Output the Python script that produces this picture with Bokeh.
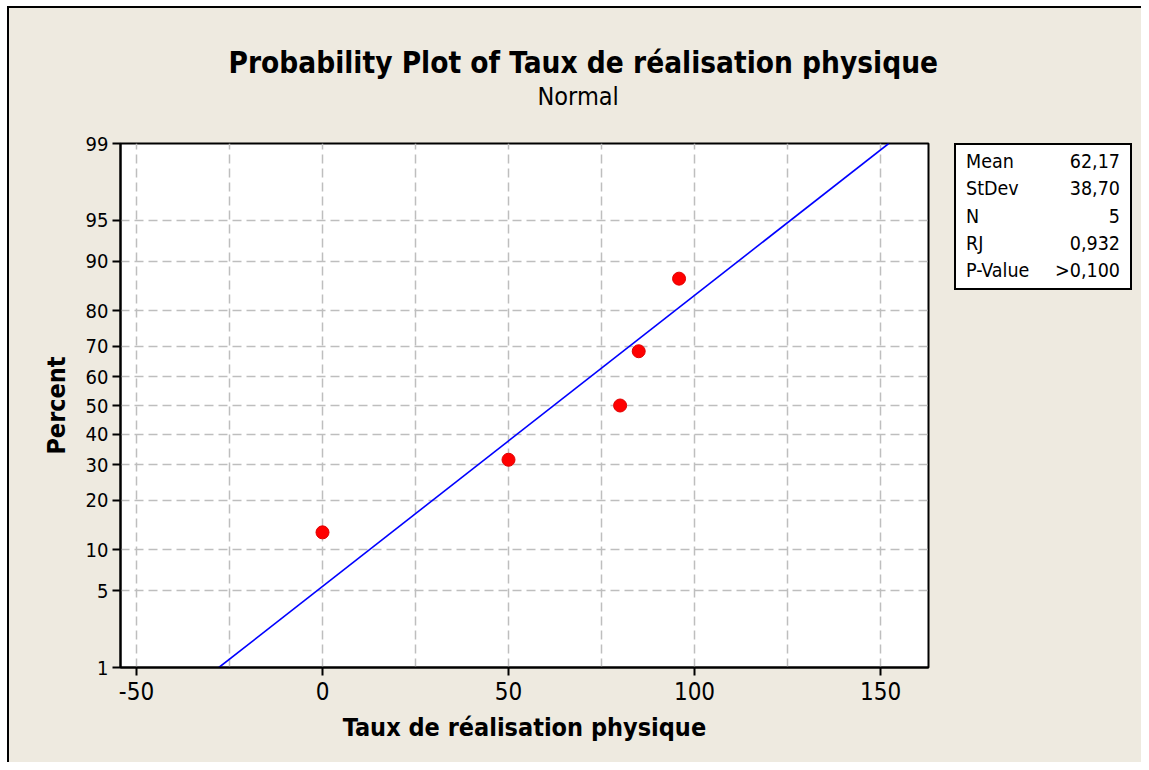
from statistics import NormalDist
from bokeh.plotting import figure
from bokeh.models import (Range1d, FixedTicker, CustomJSTickFormatter, Title,
                          ColumnDataSource, Div, Spacer)
from bokeh.layouts import row, column
from bokeh.embed import file_html
from bokeh.resources import INLINE

# ---- data ----
values = [0.0, 50.0, 80.0, 85.0, 95.85]
percents = [13.0, 31.5, 50.0, 68.5, 87.0]
fit_mean = 62.17
fit_stdev = 38.70
fit_line_percents = [1, 99]
stat_names = ["Mean", "StDev", "N", "RJ", "P-Value"]
stat_values = ["62,17", "38,70", "5", "0,932", ">0,100"]
y_tick_percents = [1, 5, 10, 20, 30, 40, 50, 60, 70, 80, 90, 95, 99]
y_grid_percents = [5, 10, 20, 30, 40, 50, 60, 70, 80, 90, 95]
x_ticks = [-50, 0, 50, 100, 150]
x_grid = [-50, -25, 0, 25, 50, 75, 100, 125, 150]

title_text = "Probability Plot of Taux de réalisation physique"
subtitle_text = "Normal"
x_label = "Taux de réalisation physique"
y_label = "Percent"

BG = "#EEEAE0"
FONT = "DejaVu Sans Condensed"

nd = NormalDist()


def z(pct):
    return nd.inv_cdf(pct / 100.0)


pts = ColumnDataSource(dict(x=values, y=[z(v) for v in percents]))
fit = ColumnDataSource(dict(
    x=[fit_mean + fit_stdev * z(v) for v in fit_line_percents],
    y=[z(v) for v in fit_line_percents]))

p = figure(width=943, height=754,
           x_range=Range1d(-54.3, 162.9),
           y_range=Range1d(z(1) - 1e-9, z(99) + 1e-9),
           output_backend="svg", toolbar_location=None,
           min_border_left=111, min_border_right=24,
           min_border_top=135, min_border_bottom=95)
p.background_fill_color = "white"
p.border_fill_color = BG
p.outline_line_color = "black"
p.outline_line_width = 2

spacer_title = Title(text=" ", text_font=FONT, text_font_size="27px", standoff=0)
p.add_layout(spacer_title, "above")
sub = Title(text=subtitle_text, align="left", offset=417,
            text_font=FONT, text_font_size="25px", text_font_style="normal",
            text_color="black", standoff=0)
p.add_layout(sub, "above")
main = Title(text=title_text, align="left", offset=108,
             text_font=FONT, text_font_size="29.5px", text_font_style="bold",
             text_color="black", standoff=0)
p.add_layout(main, "above")

# axes
p.xaxis.ticker = FixedTicker(ticks=x_ticks)
p.xgrid.ticker = FixedTicker(ticks=x_grid)
p.xaxis.formatter = CustomJSTickFormatter(code="return String(tick);")
p.yaxis.ticker = FixedTicker(ticks=[z(v) for v in y_tick_percents])
p.ygrid.ticker = FixedTicker(ticks=[z(v) for v in y_grid_percents])
p.yaxis.formatter = CustomJSTickFormatter(
    args=dict(zs=[z(v) for v in y_tick_percents], labels=[str(v) for v in y_tick_percents]),
    code="""
    let best = 0;
    for (let i = 0; i < zs.length; i++) {
        if (Math.abs(zs[i] - tick) < Math.abs(zs[best] - tick)) best = i;
    }
    return labels[best];
    """)

for ax in (p.xaxis, p.yaxis):
    ax.axis_line_color = "black"
    ax.axis_line_width = 2
    ax.major_tick_line_color = "black"
    ax.major_tick_line_width = 2
    ax.major_tick_out = 8
    ax.major_tick_in = 0
    ax.minor_tick_line_color = None
    ax.major_label_text_color = "black"
    ax.major_label_text_font = FONT
    ax.axis_label_text_font = FONT
    ax.axis_label_text_font_style = "bold"
    ax.axis_label_text_color = "black"
    ax.axis_label_text_font_size = "25px"

p.xaxis.major_label_text_font_size = "24px"
p.yaxis.major_label_text_font_size = "20px"
p.xaxis.major_label_standoff = 6
p.yaxis.major_label_standoff = 4
p.xaxis.axis_label = x_label
p.yaxis.axis_label = y_label
p.xaxis.axis_label_standoff = 10
p.yaxis.axis_label_standoff = 12

p.grid.grid_line_color = "#BEBEBE"
p.grid.grid_line_width = 1.5
p.grid.grid_line_dash = "9 5"

p.line("x", "y", source=fit, line_color="#0000FF", line_width=1.6)
p.scatter("x", "y", source=pts, size=13, fill_color="#FF0000", line_color="#E00000")

# stats box (HTML)
rows_html = "".join(
    f'<div style="display:flex;justify-content:space-between;height:27.25px;line-height:27.25px;">'
    f'<span>{n}</span><span>{v}</span></div>'
    for n, v in zip(stat_names, stat_values))
box_html = (
    f'<div style="margin-left:2px;width:178px;height:147px;box-sizing:border-box;'
    f'border:2px solid black;background:white;padding:3px 10px 0 10px;'
    f"font-family:'{FONT}';font-size:19.5px;color:black;\">{rows_html}</div>")
stats = Div(text=box_html, width=186, height=147, margin=(0, 0, 0, 0))

side = column(Spacer(width=186, height=135, margin=(0, 0, 0, 0)), stats,
              width=189, height=754)
layout = row(p, side)
layout.styles = {"background-color": BG,
                 "margin-left": "7px", "margin-top": "6px",
                 "border-left": "2px solid black", "border-top": "2px solid black"}

open("out.html", "w").write(file_html(layout, INLINE))
